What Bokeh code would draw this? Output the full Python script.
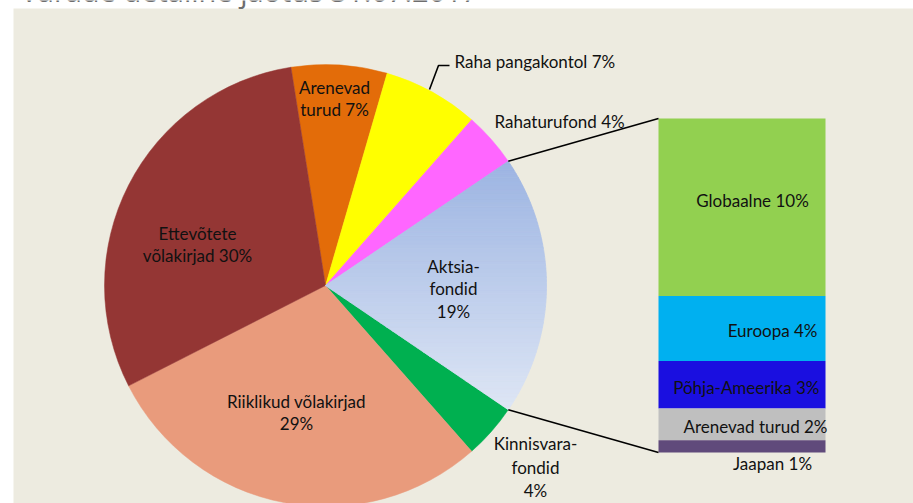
import math
from bokeh.plotting import figure
from bokeh.models import Range1d
from bokeh.core.properties import value
from bokeh.embed import file_html
from bokeh.resources import INLINE

# ---- data ----
title_text = "Varade detailne jaotus 31.07.2017"

pie_names = ["Arenevad turud", "Raha pangakontol", "Rahaturufond", "Aktsiafondid",
             "Kinnisvarafondid", "Riiklikud võlakirjad", "Ettevõtete võlakirjad"]
pie_values = [7, 7, 4, 19, 4, 29, 30]
pie_colors = ["#E36C09", "#FFFF00", "#FF66FF", None, "#00B050", "#E99B7C", "#943634"]

bar_names = ["Globaalne", "Euroopa", "Põhja-Ameerika", "Arenevad turud", "Jaapan"]
bar_values = [10.1, 3.7, 2.7, 1.8, 0.7]
bar_labels = ["Globaalne 10%", "Euroopa 4%", "Põhja-Ameerika 3%", "Arenevad turud 2%", "Jaapan 1%"]
bar_colors = ["#92D050", "#00B0F0", "#1A0FE0", "#BFBFBF", "#604A7B"]

W, H = 913, 503
FONT = "Lato"
TXT = "#111111"

def Y(py):
    return H - py

p = figure(width=W, height=H, output_backend="svg", toolbar_location=None,
           x_range=Range1d(0, W), y_range=Range1d(0, H), min_border=0,
           match_aspect=False)
p.axis.visible = False
p.grid.visible = False
p.outline_line_color = None
p.background_fill_color = "white"
p.border_fill_color = "white"

# chart area background
p.quad(left=[13], right=[W], bottom=[0], top=[Y(8)], fill_color="#EDEBE0", line_color=None)

# title (mostly cut off at top, as in the reference)
p.text(x=[20], y=[Y(-10)], text=[title_text], text_font=value("Open Sans"),
       text_font_size="29px", text_color="#6E6E6E", text_baseline="alphabetic")

# ---- pie ----
cx, cy, R = 325, Y(285), 221
start_compass = -9.0
total = sum(pie_values)
bounds = [start_compass]
for v in pie_values:
    bounds.append(bounds[-1] + v / total * 360.0)

def math_ang(c):
    return math.radians(90.0 - c)

for i, (v, col) in enumerate(zip(pie_values, pie_colors)):
    if col is None:
        continue
    p.wedge(x=[cx], y=[cy], radius=R, start_angle=[math_ang(bounds[i])],
            end_angle=[math_ang(bounds[i + 1])], direction="clock",
            fill_color=col, line_color=col, line_width=0.5)

# Aktsiafondid with vertical gradient
ai = 3
a0, a1 = bounds[ai], bounds[ai + 1]
poly = [(cx, cy)]
n = 80
for k in range(n + 1):
    c = a0 + (a1 - a0) * k / n
    t = math_ang(c)
    poly.append((cx + R * math.cos(t), cy + R * math.sin(t)))

def clip(poly, yv, keep_above):
    out = []
    m = len(poly)
    for k in range(m):
        P = poly[k]
        Q = poly[(k + 1) % m]
        inP = (P[1] >= yv) if keep_above else (P[1] <= yv)
        inQ = (Q[1] >= yv) if keep_above else (Q[1] <= yv)
        if inP:
            out.append(P)
        if inP != inQ:
            tt = (yv - P[1]) / (Q[1] - P[1])
            out.append((P[0] + tt * (Q[0] - P[0]), yv))
    return out

ys = [pt[1] for pt in poly]
ymin, ymax = min(ys), max(ys)
top_rgb = (0x9C, 0xB4, 0xE2)
bot_rgb = (0xDE, 0xE6, 0xF5)
nb = 60
xs_list, ys_list, cols = [], [], []
for b in range(nb):
    y0 = ymin + (ymax - ymin) * b / nb
    y1 = ymin + (ymax - ymin) * (b + 1) / nb
    pc = clip(clip(poly, y0, True), y1, False)
    if len(pc) < 3:
        continue
    f = 1 - (b + 0.5) / nb  # 1 at bottom -> bottom colour
    rgb = tuple(int(round(top_rgb[j] * (1 - f) + bot_rgb[j] * f)) for j in range(3))
    hexc = "#%02X%02X%02X" % rgb
    xs_list.append([q[0] for q in pc])
    ys_list.append([q[1] for q in pc])
    cols.append(hexc)
p.patches(xs=xs_list, ys=ys_list, fill_color=cols, line_color=cols, line_width=0.8)

# ---- bar (stacked, top to bottom) ----
bx0, bx1 = 658, 825
btop, bbot = Y(118), Y(452)
bar_total = sum(bar_values)
scale = (btop - bbot) / bar_total
tops, bottoms = [], []
cur = btop
for v in bar_values:
    tops.append(cur)
    cur -= v * scale
    bottoms.append(cur)
p.quad(left=[bx0] * len(bar_values), right=[bx1] * len(bar_values),
       top=tops, bottom=bottoms, fill_color=bar_colors, line_color=None)

# connector lines
akt_top = math_ang(a0)
akt_bot = math_ang(a1)
p.line(x=[cx + R * math.cos(akt_top), bx0], y=[cy + R * math.sin(akt_top), btop],
       line_color="black", line_width=1.6)
p.line(x=[cx + R * math.cos(akt_bot), bx0], y=[cy + R * math.sin(akt_bot), bbot],
       line_color="black", line_width=1.6)

# leader for Raha pangakontol
p.line(x=[429, 438, 449], y=[Y(89), Y(65), Y(65)], line_color="black", line_width=1.6)

FS = "17px"
def lab(x, y, t, align="center"):
    p.text(x=[x], y=[Y(y)], text=[t], text_font=value(FONT), text_font_size=FS,
           text_color=TXT, text_align=align, text_baseline="middle")

lab(334, 87, "Arenevad")
lab(334, 109, "turud 7%")
lab(197, 233, "Ettevõtete")
lab(197, 255, "võlakirjad 30%")
lab(453, 266, "Aktsia-")
lab(453, 288, "fondid")
lab(453, 311, "19%")
lab(296, 401, "Riiklikud võlakirjad")
lab(296, 423, "29%")
lab(535, 443, "Kinnisvara-")
lab(535, 467, "fondid")
lab(535, 490, "4%")
lab(454, 61, "Raha pangakontol 7%", "left")
lab(494, 121, "Rahaturufond 4%", "left")

lab(752, 200, bar_labels[0])
lab(817, 330, bar_labels[1], "right")
lab(819, 387, bar_labels[2], "right")
lab(827, 426, bar_labels[3], "right")
lab(772, 463, bar_labels[4])

open("out.html", "w").write(file_html(p, INLINE))
